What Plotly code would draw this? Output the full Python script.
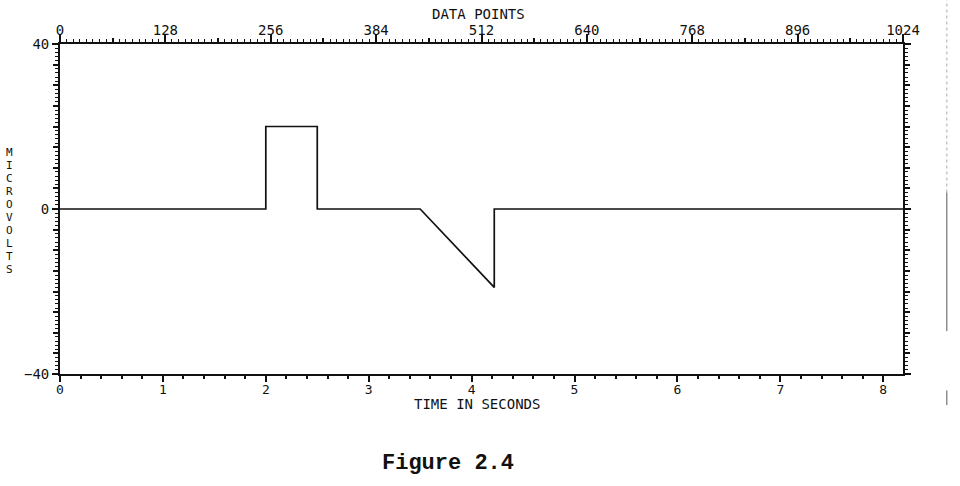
import plotly.graph_objects as go

# Data (time in seconds, microvolts)
time_s = [0.0, 2.0, 2.0, 2.5, 2.5, 3.5, 4.22, 4.22, 8.192]
microvolts = [0.0, 0.0, 20.0, 20.0, 0.0, 0.0, -19.0, 0.0, 0.0]

bottom_ticks = [0, 1, 2, 3, 4, 5, 6, 7, 8]
bottom_labels = ["0", "1", "2", "3", "4", "5", "6", "7", "8"]
top_ticks = [0, 128, 256, 384, 512, 640, 768, 896, 1024]
y_ticks = [-40, 0, 40]

FONT = "DejaVu Sans Mono"
BLACK = "#111111"

fig = go.Figure()
fig.add_trace(go.Scatter(x=time_s, y=microvolts, mode="lines",
                         line=dict(color=BLACK, width=1.7), showlegend=False,
                         hoverinfo="skip"))
# invisible traces to activate overlay axes
fig.add_trace(go.Scatter(x=[0], y=[0], xaxis="x2", yaxis="y", mode="markers",
                         marker=dict(opacity=0), showlegend=False, hoverinfo="skip"))
fig.add_trace(go.Scatter(x=[0], y=[0], xaxis="x3", yaxis="y", mode="markers",
                         marker=dict(opacity=0), showlegend=False, hoverinfo="skip"))
fig.add_trace(go.Scatter(x=[0], y=[0], xaxis="x", yaxis="y2", mode="markers",
                         marker=dict(opacity=0), showlegend=False, hoverinfo="skip"))

fig.update_layout(
    width=960, height=486,
    margin=dict(l=60, r=57, t=44, b=112),
    paper_bgcolor="white", plot_bgcolor="white",
    xaxis=dict(range=[0, 8.192], tickvals=bottom_ticks, ticktext=bottom_labels,
               ticks="outside", ticklen=6, tickwidth=1.5, tickcolor=BLACK,
               ticklabelstandoff=-4,
               minor=dict(dtick=0.2, tick0=0, ticks="outside", ticklen=3,
                          tickwidth=1.5, tickcolor=BLACK),
               showline=True, linecolor=BLACK, linewidth=1.8, mirror=True,
               showgrid=False, zeroline=False,
               tickfont=dict(family=FONT, size=13, color=BLACK)),
    xaxis2=dict(range=[0, 1024], overlaying="x", side="top", tickvals=top_ticks,
                ticks="outside", ticklen=8, tickwidth=1.5, tickcolor=BLACK,
                ticklabelstandoff=-6,
                minor=dict(dtick=8, tick0=0, ticks="outside", ticklen=3,
                           tickwidth=1.2, tickcolor=BLACK),
                showline=True, linecolor=BLACK, linewidth=1.8,
                showgrid=False, zeroline=False,
                tickfont=dict(family=FONT, size=14, color=BLACK)),
    xaxis3=dict(range=[0, 1024], overlaying="x", side="top", dtick=64, tick0=0,
                ticks="outside", ticklen=5, tickwidth=1.5, tickcolor=BLACK,
                showticklabels=False, showline=False, showgrid=False,
                zeroline=False),
    yaxis=dict(range=[-40, 40], tickvals=y_ticks, ticks="outside", ticklen=6,
               tickwidth=1.5, tickcolor=BLACK,
               minor=dict(dtick=1, tick0=0, ticks="outside", ticklen=3,
                          tickwidth=1.2, tickcolor=BLACK),
               showline=True, linecolor=BLACK, linewidth=1.8, mirror="ticks",
               showgrid=False, zeroline=False,
               tickfont=dict(family=FONT, size=14, color=BLACK)),
    yaxis2=dict(range=[-40, 40], overlaying="y", dtick=5, tick0=0,
                ticks="outside", ticklen=6, tickwidth=1.5, tickcolor=BLACK,
                mirror="ticks", showline=False, showticklabels=False,
                showgrid=False, zeroline=False),
)

def py(px):
    return (374 - px) / 330

annots = [
    dict(text="DATA POINTS", x=0.496, y=py(14), xref="paper", yref="paper",
         xanchor="center", yanchor="middle", showarrow=False,
         font=dict(family=FONT, size=14, color=BLACK)),
    dict(text="TIME IN SECONDS", x=0.495, y=py(404), xref="paper", yref="paper",
         xanchor="center", yanchor="middle", showarrow=False,
         font=dict(family=FONT, size=14, color=BLACK)),
    dict(text="<b>Figure 2.4</b>", x=(448 - 60) / 843, y=py(463), xref="paper",
         yref="paper", xanchor="center", yanchor="middle", showarrow=False,
         font=dict(family="Courier New, Liberation Mono, monospace", size=22,
                   color=BLACK)),
]
ylabel = "MICROVOLTS"
for i, ch in enumerate(ylabel):
    ypx = 152 + i * 13.1
    annots.append(dict(text=ch, x=(9 - 60) / 843, y=py(ypx), xref="paper",
                       yref="paper", xanchor="center", yanchor="middle",
                       showarrow=False,
                       font=dict(family=FONT, size=11, color=BLACK)))
fig.update_layout(annotations=annots)

# scan-edge line at right side of the page
fig.add_shape(type="line", xref="paper", yref="paper", x0=1.052, x1=1.052,
              y0=0.55, y1=1.133, line=dict(color="#aaaaaa", width=1, dash="dot"))
fig.add_shape(type="line", xref="paper", yref="paper", x0=1.052, x1=1.052,
              y0=0.13, y1=0.55, line=dict(color="#555555", width=1))
fig.add_shape(type="line", xref="paper", yref="paper", x0=1.052, x1=1.052,
              y0=-0.094, y1=-0.05, line=dict(color="#555555", width=1))

fig.write_html("out.html")
